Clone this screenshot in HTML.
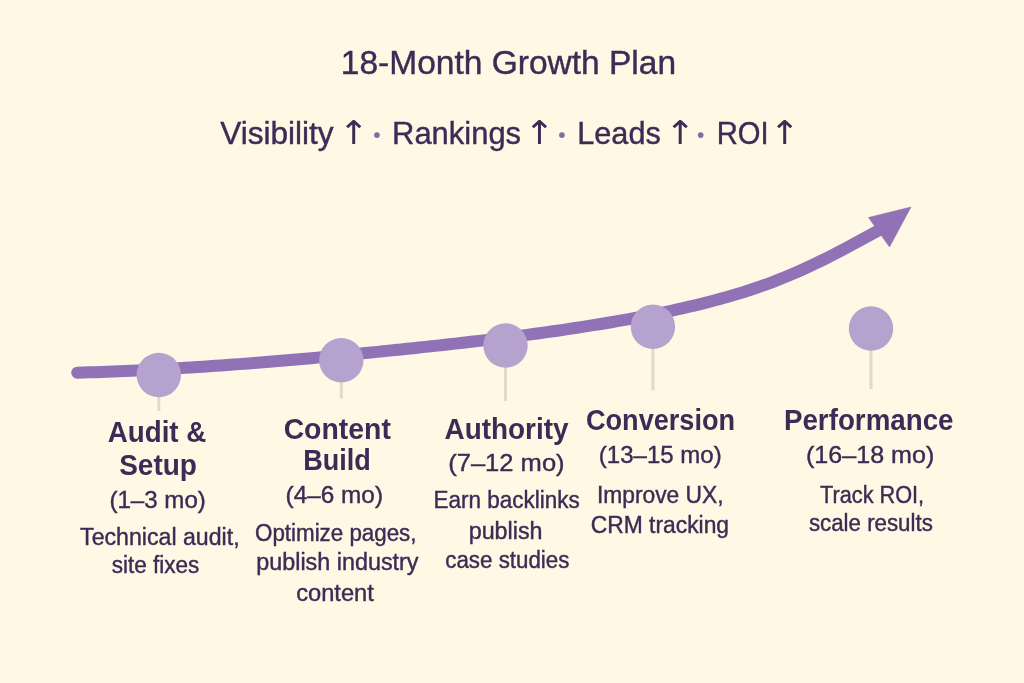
<!DOCTYPE html>
<html><head><meta charset="utf-8"><title>18-Month Growth Plan</title>
<style>
html,body{margin:0;padding:0;background:#fef8e5;}
body{width:1024px;height:683px;overflow:hidden;}
svg{display:block;font-family:"Liberation Sans",sans-serif;}
text{fill:#3b2c55;}
.dot{fill:#7f6f9e;font-family:'Liberation Serif',serif;}
.w400{stroke:#3b2c55;stroke-width:0.4px;}
.ar{font-family:'DejaVu Sans',sans-serif;}
</style></head><body>
<svg width="1024" height="683" viewBox="0 0 1024 683">
<rect width="1024" height="683" fill="#fef8e5"/>
<path d="M77.2,372.67 L83.2,372.50 L89.2,372.32 L95.2,372.13 L101.2,371.92 L107.2,371.70 L113.2,371.47 L119.2,371.23 L125.2,370.98 L131.2,370.71 L137.2,370.43 L143.2,370.14 L149.2,369.84 L155.2,369.53 L161.2,369.21 L167.2,368.88 L173.2,368.54 L179.2,368.18 L185.2,367.82 L191.2,367.45 L197.2,367.06 L203.2,366.67 L209.2,366.27 L215.2,365.86 L221.2,365.44 L227.2,365.01 L233.2,364.57 L239.2,364.13 L245.2,363.67 L251.2,363.21 L257.2,362.73 L263.2,362.26 L269.2,361.77 L275.2,361.27 L281.2,360.77 L287.2,360.26 L293.2,359.74 L299.2,359.22 L305.2,358.69 L311.2,358.15 L317.2,357.61 L323.2,357.06 L329.2,356.50 L335.2,355.94 L341.2,355.37 L347.2,354.80 L353.2,354.22 L359.2,353.64 L365.2,353.05 L371.2,352.45 L377.2,351.85 L383.2,351.25 L389.2,350.64 L395.2,350.03 L401.2,349.41 L407.2,348.79 L413.2,348.17 L419.2,347.53 L425.2,346.90 L431.2,346.26 L437.2,345.61 L443.2,344.96 L449.2,344.29 L455.2,343.63 L461.2,342.95 L467.2,342.26 L473.2,341.57 L479.2,340.87 L485.2,340.15 L491.2,339.43 L497.2,338.70 L503.2,337.95 L509.2,337.20 L515.2,336.43 L521.2,335.65 L527.2,334.86 L533.2,334.05 L539.2,333.24 L545.2,332.40 L551.2,331.56 L557.2,330.69 L563.2,329.82 L569.2,328.93 L575.2,328.02 L581.2,327.09 L587.2,326.15 L593.2,325.19 L599.2,324.22 L605.2,323.22 L611.2,322.21 L617.2,321.18 L623.2,320.12 L629.2,319.05 L635.2,317.95 L641.2,316.83 L647.2,315.67 L653.2,314.49 L659.2,313.28 L665.2,312.04 L671.2,310.77 L677.2,309.46 L683.2,308.11 L689.2,306.72 L695.2,305.30 L701.2,303.83 L707.2,302.33 L713.2,300.77 L719.2,299.16 L725.2,297.50 L731.2,295.78 L737.2,294.00 L743.2,292.16 L749.2,290.24 L755.2,288.25 L761.2,286.18 L767.2,284.03 L773.2,281.79 L779.2,279.47 L785.2,277.05 L791.2,274.54 L797.2,271.95 L803.2,269.27 L809.2,266.51 L815.2,263.68 L821.2,260.77 L827.2,257.80 L833.2,254.76 L839.2,251.66 L845.2,248.51 L851.2,245.32 L857.2,242.09 L863.2,238.83 L869.2,235.54 L875.2,232.23 L880.0,229.58" fill="none" stroke="#9272b6" stroke-width="12" stroke-linecap="round" stroke-linejoin="round"/>
<polygon points="911,207 868.5,217.5 889.5,247" fill="#9272b6" stroke="#9272b6" stroke-width="0.6" stroke-linejoin="round"/>
<line x1="158.8" y1="375" x2="158.8" y2="411" stroke="#e2d9c9" stroke-width="3"/>
<line x1="341.3" y1="360.2" x2="341.3" y2="398.5" stroke="#e2d9c9" stroke-width="3"/>
<line x1="505.5" y1="345.5" x2="505.5" y2="401" stroke="#e2d9c9" stroke-width="3"/>
<line x1="652.9" y1="326.8" x2="652.9" y2="390.3" stroke="#e2d9c9" stroke-width="3"/>
<line x1="871" y1="328.5" x2="871" y2="389" stroke="#e2d9c9" stroke-width="3"/>
<circle cx="158.8" cy="375" r="22.2" fill="#b6a2ce"/>
<circle cx="341.3" cy="360.2" r="22.2" fill="#b6a2ce"/>
<circle cx="505.5" cy="345.5" r="22.2" fill="#b6a2ce"/>
<circle cx="652.9" cy="326.8" r="22.2" fill="#b6a2ce"/>
<circle cx="871" cy="328.5" r="22.2" fill="#b6a2ce"/>

<text x="340.85" y="74.3" font-size="32.7" font-weight="400" class="w400" textLength="335.23" lengthAdjust="spacingAndGlyphs">18-Month Growth Plan</text>
<text x="220.16" y="144" font-size="31.5" font-weight="400" class="w400" textLength="113.50" lengthAdjust="spacingAndGlyphs">Visibility</text>
<text x="392.06" y="144" font-size="31.5" font-weight="400" class="w400" textLength="129.06" lengthAdjust="spacingAndGlyphs">Rankings</text>
<text x="577.18" y="144" font-size="31.5" font-weight="400" class="w400" textLength="83.63" lengthAdjust="spacingAndGlyphs">Leads</text>
<text x="716.81" y="144" font-size="31.5" font-weight="400" class="w400" textLength="51.89" lengthAdjust="spacingAndGlyphs">ROI</text>
<text x="107.71" y="442.3" font-size="29" font-weight="700" class="w700" textLength="98.66" lengthAdjust="spacingAndGlyphs">Audit &amp;</text>
<text x="119.19" y="475.1" font-size="29" font-weight="700" class="w700" textLength="77.75" lengthAdjust="spacingAndGlyphs">Setup</text>
<text x="109.40" y="508" font-size="24" font-weight="400" class="w400" textLength="96.49" lengthAdjust="spacingAndGlyphs">(1–3 mo)</text>
<text x="80.08" y="544.7" font-size="23" font-weight="400" class="w400" textLength="159.50" lengthAdjust="spacingAndGlyphs">Technical audit,</text>
<text x="111.67" y="573" font-size="23" font-weight="400" class="w400" textLength="87.64" lengthAdjust="spacingAndGlyphs">site fixes</text>
<text x="283.64" y="438.9" font-size="29" font-weight="700" class="w700" textLength="107.21" lengthAdjust="spacingAndGlyphs">Content</text>
<text x="303.19" y="470.2" font-size="29" font-weight="700" class="w700" textLength="67.59" lengthAdjust="spacingAndGlyphs">Build</text>
<text x="285.59" y="502.9" font-size="24" font-weight="400" class="w400" textLength="97.42" lengthAdjust="spacingAndGlyphs">(4–6 mo)</text>
<text x="255.04" y="541" font-size="23" font-weight="400" class="w400" textLength="161.47" lengthAdjust="spacingAndGlyphs">Optimize pages,</text>
<text x="256.29" y="570.3" font-size="23" font-weight="400" class="w400" textLength="162.25" lengthAdjust="spacingAndGlyphs">publish industry</text>
<text x="296.19" y="600.6" font-size="23" font-weight="400" class="w400" textLength="77.68" lengthAdjust="spacingAndGlyphs">content</text>
<text x="444.51" y="438.5" font-size="29" font-weight="700" class="w700" textLength="123.94" lengthAdjust="spacingAndGlyphs">Authority</text>
<text x="448.22" y="470.8" font-size="24" font-weight="400" class="w400" textLength="116.37" lengthAdjust="spacingAndGlyphs">(7–12 mo)</text>
<text x="433.56" y="507.7" font-size="23" font-weight="400" class="w400" textLength="146.26" lengthAdjust="spacingAndGlyphs">Earn backlinks</text>
<text x="468.70" y="538.5" font-size="23" font-weight="400" class="w400" textLength="73.81" lengthAdjust="spacingAndGlyphs">publish</text>
<text x="445.25" y="568.3" font-size="23" font-weight="400" class="w400" textLength="124.16" lengthAdjust="spacingAndGlyphs">case studies</text>
<text x="585.99" y="430" font-size="29" font-weight="700" class="w700" textLength="149.09" lengthAdjust="spacingAndGlyphs">Conversion</text>
<text x="598.81" y="463" font-size="24" font-weight="400" class="w400" textLength="122.88" lengthAdjust="spacingAndGlyphs">(13–15 mo)</text>
<text x="596.90" y="502.5" font-size="23" font-weight="400" class="w400" textLength="126.65" lengthAdjust="spacingAndGlyphs">Improve UX,</text>
<text x="590.74" y="532.8" font-size="23" font-weight="400" class="w400" textLength="138.33" lengthAdjust="spacingAndGlyphs">CRM tracking</text>
<text x="783.94" y="430.3" font-size="29" font-weight="700" class="w700" textLength="169.60" lengthAdjust="spacingAndGlyphs">Performance</text>
<text x="805.94" y="463.1" font-size="24" font-weight="400" class="w400" textLength="128.41" lengthAdjust="spacingAndGlyphs">(16–18 mo)</text>
<text x="820.11" y="502.6" font-size="23" font-weight="400" class="w400" textLength="104.04" lengthAdjust="spacingAndGlyphs">Track ROI,</text>
<text x="808.88" y="531.1" font-size="23" font-weight="400" class="w400" textLength="123.93" lengthAdjust="spacingAndGlyphs">scale results</text>
<text transform="translate(353.7,144) scale(1.09,1)" x="-13.73" y="0" font-size="32.8" class="ar">↑</text>
<text transform="translate(539.5,144) scale(1.09,1)" x="-13.73" y="0" font-size="32.8" class="ar">↑</text>
<text transform="translate(680.2,144) scale(1.09,1)" x="-13.73" y="0" font-size="32.8" class="ar">↑</text>
<text transform="translate(784.6,144) scale(1.09,1)" x="-13.73" y="0" font-size="32.8" class="ar">↑</text>
<text x="368.82" y="150.85" font-size="49.1" class="dot">·</text>
<text x="553.82" y="150.85" font-size="49.1" class="dot">·</text>
<text x="692.52" y="150.85" font-size="49.1" class="dot">·</text>

</svg>
</body></html>
